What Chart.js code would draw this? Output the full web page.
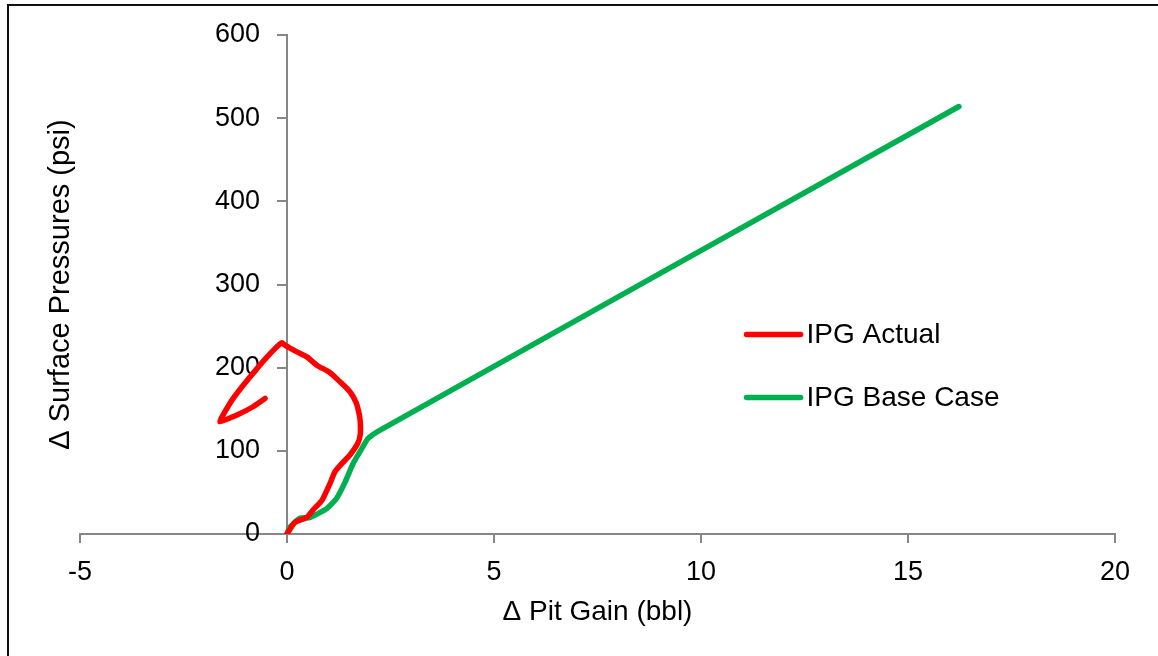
<!DOCTYPE html>
<html>
<head>
<meta charset="utf-8">
<script src="https://cdn.jsdelivr.net/npm/chart.js@4"></script>
<style>
  body { margin: 0; background: #fff; }
  #wrap { position: relative; width: 1158px; height: 656px; }
  #frame { position: absolute; left: 7px; top: 4px; right: 0; bottom: 0;
           border-top: 2px solid #111; border-left: 2px solid #111; pointer-events: none; }
  canvas { position: absolute; left: 0; top: 0; }
</style>
</head>
<body>
<div id="wrap">
  <canvas id="chart" width="1158" height="656"></canvas>
  <div id="frame"></div>
</div>
<script>
// IPG Actual (red) - pit gain vs surface pressure
var actualX = [0, 0.19, 0.48, 0.63, 0.85, 1.04, 1.16, 1.33, 1.52, 1.71, 1.77, 1.77, 1.74, 1.67, 1.52, 1.28, 1.04, 0.72, 0.48, 0.24, -0.05, -0.13, -0.48, -0.89, -1.3, -1.58, -1.62, -1.5, -1.21, -0.82, -0.53];
var actualY = [0, 14, 20, 29, 41, 61, 75, 85, 95, 109, 120, 135, 145, 158, 171, 183, 194, 203, 213, 219, 227, 230, 213, 189, 163, 140, 135, 137, 143, 153, 163];

// IPG Base Case (green)
var baseX = [0, 0.07, 0.31, 0.56, 0.97, 1.2, 1.4, 1.6, 1.81, 1.96, 2.25, 16.23];
var baseY = [0, 8, 19, 20, 31, 43, 62, 85, 103, 115, 125, 514];

var xTicks = [-5, 0, 5, 10, 15, 20];
var yTicks = [0, 100, 200, 300, 400, 500, 600];

var xTitle = 'Δ Pit Gain (bbl)';
var yTitle = 'Δ Surface Pressures (psi)';

var FONT = '"Liberation Sans", Arial, sans-serif';
var AXIS = '#868686';

function toPoints(xs, ys) {
    return xs.map(function (x, i) { return { x: x, y: ys[i] }; });
}

// y axis sits at x=0, chart.js puts its labels right against the line -> push them left
var yLabelGap = {
    id: 'yLabelGap',
    beforeDraw: function (chart) {
        chart.scales.y.getLabelItems().forEach(function (item) {
            if (!item._moved) {
                item.options.translation[0] -= 27;
                item._moved = true;
            }
        });
    }
};

// axis titles: the crossing axes would put them next to the zero lines
var axisTitles = {
    id: 'axisTitles',
    afterDraw: function (chart) {
        var ctx = chart.ctx;
        var area = chart.chartArea;
        ctx.save();
        ctx.fillStyle = '#000';
        ctx.textAlign = 'center';
        ctx.textBaseline = 'middle';
        ctx.font = '28px ' + FONT;
        ctx.fillText(xTitle, (area.left + area.right) / 2, 612);
        ctx.translate(61, (area.top + area.bottom) / 2);
        ctx.rotate(-Math.PI / 2);
        ctx.font = '29px ' + FONT;
        ctx.fillText(yTitle, 0, 0);
        ctx.restore();
    }
};

// legend drawn inside the plot, middle right
var insideLegend = {
    id: 'insideLegend',
    afterDatasetsDraw: function (chart) {
        var ctx = chart.ctx;
        var x0 = chart.scales.x.getPixelForValue(11.1);
        var y0 = chart.scales.y.getPixelForValue(240);
        ctx.save();
        ctx.font = '28px ' + FONT;
        ctx.textBaseline = 'middle';
        chart.data.datasets.forEach(function (ds, i) {
            var y = y0 + i * 63;
            ctx.strokeStyle = ds.borderColor;
            ctx.lineWidth = 5.5;
            ctx.lineCap = 'round';
            ctx.beginPath();
            ctx.moveTo(x0, y);
            ctx.lineTo(x0 + 54, y);
            ctx.stroke();
            ctx.fillStyle = '#000';
            ctx.fillText(ds.label, x0 + 60, y + 1);
        });
        ctx.restore();
    }
};

var ctx = document.getElementById('chart').getContext('2d');
var chart = new Chart(ctx, {
    type: 'scatter',
    data: {
        datasets: [
            {
                label: 'IPG Actual',
                data: toPoints(actualX, actualY),
                borderColor: '#FF0000',
                showLine: true,
                borderWidth: 5.5,
                pointRadius: 0,
                tension: 0.2,
                borderCapStyle: 'round',
                borderJoinStyle: 'round'
            },
            {
                label: 'IPG Base Case',
                data: toPoints(baseX, baseY),
                borderColor: '#00B050',
                showLine: true,
                borderWidth: 5.5,
                pointRadius: 0,
                tension: 0.2,
                borderCapStyle: 'round',
                borderJoinStyle: 'round'
            }
        ]
    },
    options: {
        responsive: false,
        animation: false,
        layout: { padding: { left: 80, right: 43, top: 35, bottom: 122 } },
        plugins: { legend: { display: false }, tooltip: { enabled: false } },
        scales: {
            x: {
                type: 'linear',
                position: { y: 0 },
                min: -5,
                max: 20,
                afterBuildTicks: function (s) { s.ticks = xTicks.map(function (v) { return { value: v }; }); },
                grid: { drawOnChartArea: false, color: AXIS, lineWidth: 2, tickLength: 8 },
                border: { color: AXIS, width: 2 },
                ticks: { color: '#000', font: { family: FONT, size: 27 }, padding: 14, maxRotation: 0 }
            },
            y: {
                type: 'linear',
                position: { x: 0 },
                min: 0,
                max: 600,
                afterBuildTicks: function (s) { s.ticks = yTicks.map(function (v) { return { value: v }; }); },
                grid: { drawOnChartArea: false, color: AXIS, lineWidth: 2, tickLength: 9 },
                border: { color: AXIS, width: 2 },
                ticks: { color: '#000', font: { family: FONT, size: 27 }, padding: 17 }
            }
        }
    },
    plugins: [yLabelGap, axisTitles, insideLegend]
});
</script>
</body>
</html>
